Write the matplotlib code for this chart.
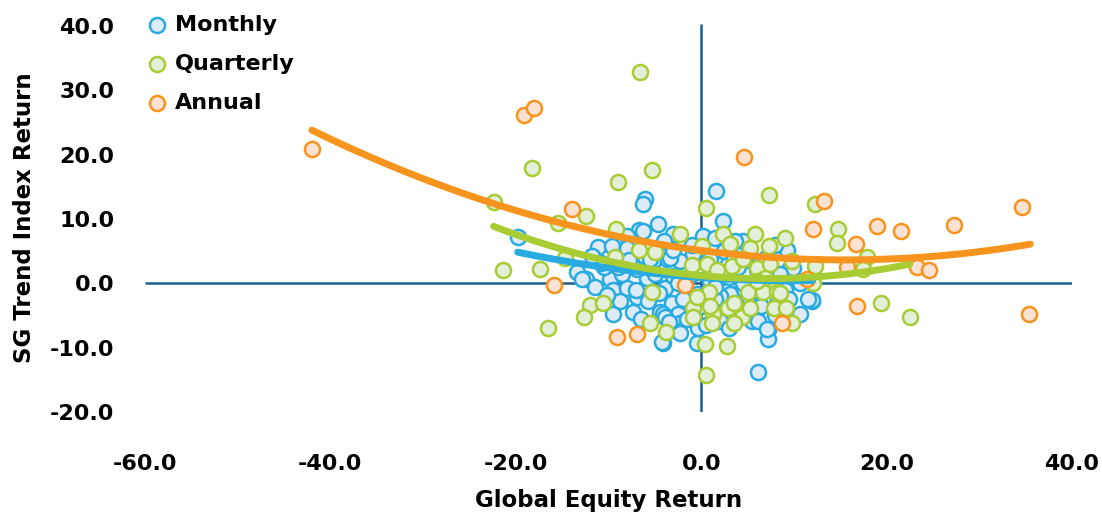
import numpy as np
import matplotlib
matplotlib.use("Agg")
import matplotlib.pyplot as plt

# ---------------- data ----------------
monthly_x = [-6.1, -6.3, 1.6, -4.7, -6.7, -8.0, -3.0, 2.3, 0.2, 1.5, 4.5, -19.8, -11.1, -9.6, -8.0,
             -3.7, -2.3, -5.2, -13.4, -12.4, -9.8, -9.5, -8.0, -6.9, -5.7, -3.9, -3.1, -4.4, -2.5,
             -2.3, -4.1, -0.4, -0.3, -9.5, -7.4, 2.0, 5.5, 7.2, 7.2, 6.1, 12.0, 10.7, 9.6, 10.7,
             2.9, 2.0, 1.0, -0.4, -1.5, -3.0, -5.8, -6.9, 6.0, 7.4, 8.2, 3.5, 2.6, -12.9, -4.2,
             -4.1, -2.6, -3.9, -2.3, 3.1, 2.0, 6.1, 7.1, 11.9, -6.3, 3.6, 9.9, 11.5, -3.4, -5.5,
             -0.9, 1.0, 9.3, -3.0,
             -1.0, 0.5, 3.0, 4.5, 5.5, 8.5, -2.0, 0.0, 1.5, 4.0, 5.0, 6.5, 8.0, 9.0, -7.5, -8.5,
             -10.5, -11.5, -4.5, -5.0, -1.5, 0.5, 3.0, 4.5, 2.5, 5.0, 7.0, -3.5, -6.5, -0.5, 1.5,
             6.0, 9.5, -2.5, -7.0, 4.0, 3.5, -1.0, -4.0, 8.0,
             -10.8, -9.0, -11.8, -8.8, -10.2, -7.8]
monthly_y = [13.1, 12.3, 14.3, 9.2, 8.3, 7.4, 7.7, 9.7, 7.4, 7.1, 6.6, 7.2, 5.7, 5.8, 5.5,
             3.8, 3.5, 3.5, 1.7, 0.7, 0.6, -1.1, -0.7, -2.2, -2.7, -0.8, -3.0, -4.5, -4.7,
             -6.2, -9.2, -9.3, -7.0, -4.7, -4.5, -5.8, -5.8, -7.3, -8.6, -13.8, -2.7, -4.7, 2.4, 0.0,
             3.0, 0.9, 0.4, -1.6, 0.9, 1.2, 0.9, 2.3, 2.0, 0.4, -3.1, -1.6, -3.4, 0.6, -9.1,
             -4.8, -7.4, -5.3, -7.8, -1.6, -1.9, -5.8, -7.1, -2.6, 8.1, 6.6, 2.4, -2.4, 3.9, 3.8,
             4.6, 3.8, 5.1, 5.1,
             1.5, 2.0, 1.0, 0.0, 3.5, 1.5, -2.5, -3.5, -2.5, -3.0, -2.0, -3.5, -5.0, -1.0, 3.0, 1.5,
             2.5, -0.5, -1.5, 1.5, -5.5, -6.5, -7.0, -4.5, 5.0, 4.5, 4.0, -6.0, -5.5, 2.5, -0.5,
             -1.0, -2.5, 0.0, -1.0, 2.5, 4.0, 6.0, 6.5, 6.0,
             3.2, 2.6, 4.2, -2.8, -1.8, 3.6]

quarterly_x = [-6.6, -18.2, -9.0, -5.3, -22.4, -15.5, -12.4, -21.4, -17.4, -14.7, -9.2, -9.3, -6.7,
               -5.0, -2.3, 0.5, 2.4, 5.8, 7.3, 12.3, 14.8, 14.6, 9.0, 7.3, 5.3, 3.1, 0.1, -1.0,
               0.6, 3.3, 4.5, 6.0, 7.4, 12.3, 6.9, -12.0, -10.6, -12.6, -16.5, -5.3, -5.5, -3.8,
               -0.9, -0.9, 0.8, 1.3, 2.9, 4.4, 3.5, 5.1, 5.3, 6.7, 8.2, 7.8, 9.1, 9.8, 0.4, 2.8,
               0.5, 17.9, 17.5, 12.1, 19.4, 22.5, 8.5, 9.8, 1.7, 6.0, -0.4, 3.5, 1.0, 1.2]
quarterly_y = [32.9, 17.9, 15.7, 17.6, 12.6, 9.4, 10.5, 2.1, 2.3, 4.0, 8.5, 4.1, 5.1,
               4.9, 7.7, 11.7, 7.7, 7.7, 13.7, 12.3, 8.4, 6.3, 7.1, 5.8, 5.5, 6.1, 5.8, 2.9,
               3.0, 2.7, 3.8, 2.4, 3.0, 2.7, 0.9, -3.3, -3.0, -5.3, -7.0, -1.4, -6.2, -7.5,
               -3.9, -5.3, -1.4, -4.7, -3.8, -5.3, -6.1, -1.4, -3.8, -1.4, -1.4, -3.9, -3.9, -6.2, -9.5, -9.8,
               -14.3, 4.1, 2.3, 0.1, -3.1, -5.2, -1.5, 3.5, 2.0, 0.4, -2.2, -3.1, -3.5, -6.1]

annual_x = [-42.0, -19.1, -18.0, -13.9, -15.9, -9.1, -6.9, 4.6, -1.8, 13.2, 12.1, 19.0, 21.5, 27.3,
            34.6, 16.7, 15.7, 23.3, 24.6, 16.8, 35.4, 11.4, 8.7]
annual_y = [20.8, 26.2, 27.3, 11.5, -0.2, -8.3, -7.9, 19.6, -0.2, 12.8, 8.5, 8.9, 8.1, 9.0,
            11.8, 6.1, 2.6, 2.6, 2.1, -3.6, -4.8, 0.6, -6.2]

# quadratic trend-line coefficients (a*x^2 + b*x + c) and x-extent
monthly_fit = [0.0050, -0.100, 0.9]
monthly_range = [-19.8, 12.0]
quarterly_fit = [0.00936, -0.132, 1.2]
quarterly_range = [-22.4, 22.5]
annual_fit = [0.0061, -0.189, 5.1]
annual_range = [-42.0, 35.5]

x_ticks = [-60, -40, -20, 0, 20, 40]
y_ticks = [-20, -10, 0, 10, 20, 30, 40]

# ---------------- style ----------------
W, H = 1102, 513
fig = plt.figure(figsize=(W / 100, H / 100), dpi=100)
plt.rcParams['font.family'] = ['DejaVu Sans']
ax = fig.add_axes([145 / W, 1 - 412 / H, (1072 - 145) / W, (412 - 24) / H])

XMIN, XMAX, YMIN, YMAX = -60, 40, -20, 40.3

series = [
    ("Monthly", monthly_x, monthly_y, monthly_fit, monthly_range, "#29abe2", "#dcebf7"),
    ("Quarterly", quarterly_x, quarterly_y, quarterly_fit, quarterly_range, "#a8cd34", "#e3efd9"),
    ("Annual", annual_x, annual_y, annual_fit, annual_range, "#f7941d", "#fde1d3"),
]

axis_col = "#1b5e8e"
ax.plot([XMIN, XMAX], [0, 0], color=axis_col, lw=1.8, zorder=1, solid_capstyle='butt')
ax.plot([0, 0], [YMIN, YMAX], color=axis_col, lw=1.8, zorder=1, solid_capstyle='butt')

for i, (name, xs, ys, fit, rng, ec, fc) in enumerate(series):
    ax.scatter(xs, ys, s=118, facecolor=fc, edgecolor=ec, linewidth=1.8, zorder=2 + i, label=name)

for i, (name, xs, ys, fit, rng, ec, fc) in enumerate(series):
    xx = np.linspace(rng[0], rng[1], 200)
    ax.plot(xx, np.polyval(fit, xx), color=ec, lw=5, solid_capstyle='round', zorder=6 + i)

ax.set_xticks(x_ticks)
ax.set_yticks(y_ticks)
ax.set_xticklabels([f"{v:.1f}" for v in x_ticks])
ax.set_yticklabels([f"{v:.1f}" for v in y_ticks])
ax.set_xlim(XMIN, XMAX)
ax.set_ylim(YMIN, YMAX)
for s in ax.spines.values():
    s.set_visible(False)
ax.tick_params(axis='x', length=0, pad=30, labelsize=16)
ax.tick_params(axis='y', length=0, pad=22, labelsize=16)
for lab in ax.get_xticklabels() + ax.get_yticklabels():
    lab.set_fontweight('bold')

fig.text(25 / W, 1 - 218 / H, "SG Trend Index Return", rotation=90, ha='center', va='center',
         fontsize=16.5, fontweight='bold')
fig.text(608.5 / W, 1 - 500 / H, "Global Equity Return", ha='center', va='center',
         fontsize=16.5, fontweight='bold')

leg = fig.legend(loc='upper left', bbox_to_anchor=(146 / W, 1 - 15 / H), bbox_transform=fig.transFigure,
                 frameon=False, handlelength=1.0, handletextpad=0.3, borderaxespad=0, borderpad=0,
                 labelspacing=0.85, prop={'size': 16, 'weight': 'bold'}, scatterpoints=1)

fig.savefig("out.png", dpi=100)
